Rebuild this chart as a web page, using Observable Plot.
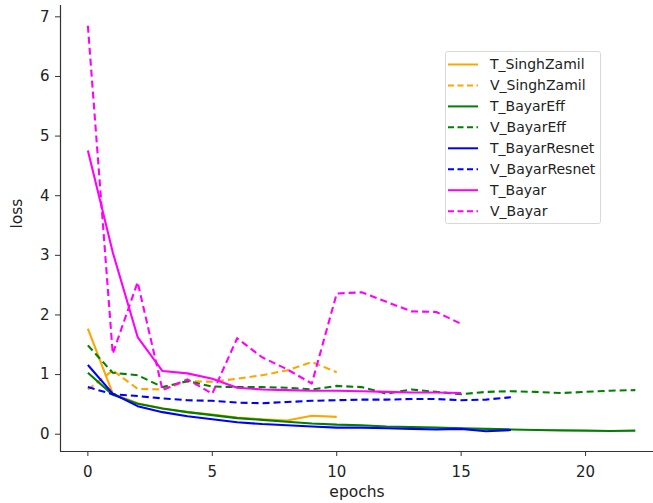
<!DOCTYPE html>
<html>
<head>
<meta charset="utf-8">
<script src="https://cdn.jsdelivr.net/npm/d3@7"></script>
<script src="https://cdn.jsdelivr.net/npm/@observablehq/plot@0.6"></script>
<style>
  html, body { margin: 0; padding: 0; background: #fff; }
  #chart { width: 653px; height: 503px; }
</style>
</head>
<body>
<div id="chart"></div>
<script>
// ---- data (loss per epoch, index = epoch) ----
const seriesNames = ["T_SinghZamil", "V_SinghZamil", "T_BayarEff", "V_BayarEff", "T_BayarResnet", "V_BayarResnet", "T_Bayar", "V_Bayar"];
const seriesColors = ["#FFA500", "#FFA500", "#008000", "#008000", "#0000FF", "#0000FF", "#FF00FF", "#FF00FF"];
const seriesDashed = [false, true, false, true, false, true, false, true];

const tSinghZamil = [1.77, 0.68, 0.52, 0.43, 0.37, 0.33, 0.28, 0.25, 0.23, 0.31, 0.29];
const vSinghZamil = [0.75, 1.07, 0.76, 0.75, 0.89, 0.88, 0.93, 0.99, 1.07, 1.21, 1.04];
const tBayarEff = [1.03, 0.66, 0.51, 0.43, 0.37, 0.32, 0.27, 0.24, 0.21, 0.18, 0.16, 0.15, 0.13, 0.12, 0.11, 0.10, 0.09, 0.08, 0.07, 0.065, 0.06, 0.055, 0.06];
const vBayarEff = [1.49, 1.03, 0.99, 0.79, 0.89, 0.80, 0.79, 0.79, 0.78, 0.75, 0.81, 0.79, 0.68, 0.75, 0.71, 0.67, 0.71, 0.72, 0.71, 0.69, 0.71, 0.73, 0.74];
const tBayarResnet = [1.16, 0.68, 0.47, 0.37, 0.30, 0.25, 0.20, 0.17, 0.15, 0.13, 0.11, 0.11, 0.10, 0.09, 0.08, 0.09, 0.05, 0.07];
const vBayarResnet = [0.79, 0.67, 0.64, 0.60, 0.57, 0.56, 0.53, 0.52, 0.54, 0.56, 0.57, 0.58, 0.58, 0.59, 0.59, 0.57, 0.58, 0.62];
const tBayar = [4.76, 3.05, 1.63, 1.06, 1.02, 0.93, 0.78, 0.75, 0.74, 0.73, 0.73, 0.72, 0.71, 0.70, 0.70, 0.69];
const vBayar = [6.85, 1.35, 2.55, 0.74, 0.92, 0.68, 1.61, 1.29, 1.09, 0.85, 2.36, 2.38, 2.22, 2.06, 2.05, 1.85];

const seriesValues = [tSinghZamil, vSinghZamil, tBayarEff, vBayarEff, tBayarResnet, vBayarResnet, tBayar, vBayar];

const xTicks = [0, 5, 10, 15, 20];
const yTicks = [0, 1, 2, 3, 4, 5, 6, 7];
const xLabel = "epochs";
const yLabel = "loss";

// ---- build table ----
const rows = [];
seriesNames.forEach((name, i) => {
  seriesValues[i].forEach((v, e) => rows.push({series: name, epoch: e, loss: v}));
});

const xDomain = [-1.1, 22.73];
const yDomain = [-0.29, 7.19];

const lineMarks = seriesNames.map((name, i) =>
  Plot.line(rows.filter(r => r.series === name), {
    x: "epoch", y: "loss",
    stroke: seriesColors[i],
    strokeWidth: 2.1,
    strokeDasharray: seriesDashed[i] ? "7,4" : null,
    strokeLinejoin: "round",
    strokeLinecap: "butt"
  })
);

const chart = Plot.plot({
  width: 653,
  height: 503,
  marginLeft: 60,
  marginRight: 0,
  marginTop: 5,
  marginBottom: 52,
  style: {fontFamily: "DejaVu Sans", fontSize: "15px", color: "#222", background: "#fff"},
  x: {domain: xDomain},
  y: {domain: yDomain},
  marks: [
    Plot.axisX(xTicks, {tickSize: 5, tickPadding: 10, label: null, fontSize: 15, stroke: "#333", tickFormat: d => String(d)}),
    Plot.axisY(yTicks, {tickSize: 5, tickPadding: 6, label: null, fontSize: 15, stroke: "#333", tickFormat: d => String(d)}),
    Plot.ruleX([xDomain[0]], {stroke: "#333", strokeWidth: 1.2}),
    Plot.ruleY([yDomain[0]], {stroke: "#333", strokeWidth: 1.2}),
    ...lineMarks,
    Plot.text([xLabel], {frameAnchor: "bottom", dy: 45, fontSize: 15.5, fill: "#222", letterSpacing: "0.4px"}),
    Plot.text([yLabel], {frameAnchor: "left", dx: -43, rotate: -90, fontSize: 15.5, fill: "#222"})
  ]
});

document.getElementById("chart").appendChild(chart);

// ---- legend inside the plot ----
const svg = d3.select(chart);
const lg = svg.append("g")
  .attr("font-family", "DejaVu Sans").attr("font-size", 14)
  .attr("text-anchor", "start");
lg.append("rect")
  .attr("x", 445.5).attr("y", 51.5).attr("width", 155).attr("height", 172)
  .attr("fill", "#fff").attr("fill-opacity", 0.85)
  .attr("stroke", "#d8d8d8").attr("stroke-width", 1).attr("rx", 2);
seriesNames.forEach((name, i) => {
  const cy = 64.5 + i * 20.95;
  lg.append("line")
    .attr("x1", 448).attr("x2", 478).attr("y1", cy).attr("y2", cy)
    .attr("stroke", seriesColors[i]).attr("stroke-width", 2)
    .attr("stroke-dasharray", seriesDashed[i] ? "6,3.5" : null);
  lg.append("text")
    .attr("x", 490).attr("y", cy).attr("dy", "0.35em")
    .attr("text-anchor", "start")
    .attr("fill", "#222").text(name);
});
</script>
</body>
</html>
